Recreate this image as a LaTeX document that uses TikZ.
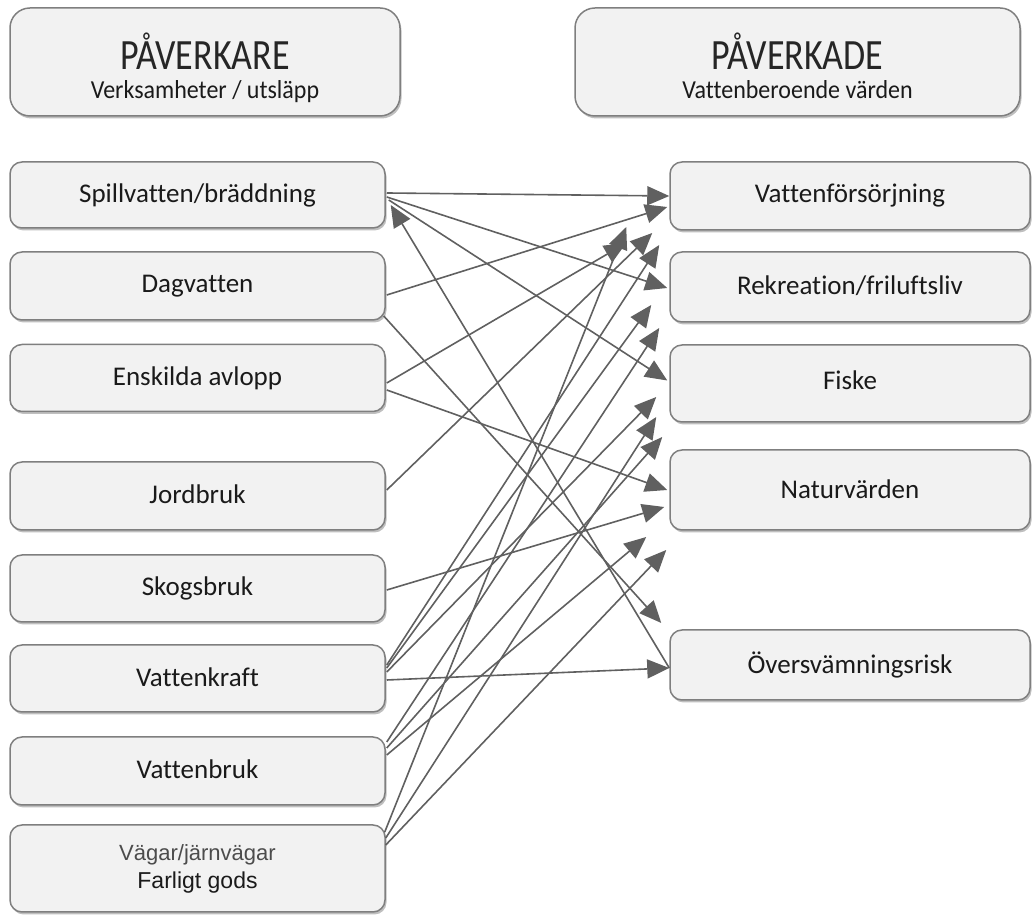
\documentclass[tikz,border=0pt]{standalone}
\usepackage{fontspec}
\setmainfont{Carlito}[Ligatures=NoCommon]
\newfontfamily\arialf{Liberation Sans}
\usetikzlibrary{arrows.meta,shadows,calc}
\definecolor{boxfill}{HTML}{F2F2F2}
\definecolor{boxline}{HTML}{7F7F7F}
\definecolor{arrcol}{HTML}{606060}
\definecolor{txt}{HTML}{1A1A1A}
\begin{document}
\begin{tikzpicture}[x=1pt,y=1pt,
  box/.style={draw=boxline,line width=1.5pt,fill=boxfill,rounded corners=12pt,
    minimum width=375pt,inner sep=0pt,align=center,text=txt,
    font=\fontsize{27}{32}\selectfont,
    drop shadow={shadow xshift=1.5pt,shadow yshift=-2.5pt,opacity=0.25,fill=black}},
  rbox/.style={box,minimum width=360pt},
  hbox/.style={box,rounded corners=20pt,minimum height=108pt},
  htitle/.style={anchor=base,inner sep=0pt,text=black!85,font=\fontsize{36}{40}\selectfont},
  hsub/.style={anchor=base,inner sep=0pt,text=txt,font=\fontsize{24}{28}\selectfont},
  arr/.style={draw=arrcol,line width=1.6pt,-{Triangle[length=22pt,width=19pt]},fill=arrcol}
]
\useasboundingbox (0,0) rectangle (1034,915);
% headers
\node[hbox,minimum width=390pt] (hl) at (205,853) {};
\node[htitle] (hlt) at ($(hl.center)+(0,-8)$) {\scalebox{1}[1.2]{PÅVERKARE}};
\node[hsub] (hls) at ($(hl.center)+(0,-37)$) {\scalebox{1}[1.08]{Verksamheter / utsläpp}};
\node[hbox,minimum width=445pt] (hr) at (797.5,853) {};
\node[htitle] (hrt) at ($(hr.center)+(0,-8)$) {\scalebox{1}[1.2]{PÅVERKADE}};
\node[hsub] (hrs) at ($(hr.center)+(0,-37)$) {\scalebox{1}[1.08]{Vattenberoende värden}};
% left boxes
\node[box,minimum height=66pt] (spill) at (197.5,720) {\raisebox{3pt}{Spillvatten/bräddning}};
\node[box,minimum height=68pt] (dag) at (197.5,629) {\raisebox{3pt}{Dagvatten}};
\node[box,minimum height=67pt] (ensk) at (197.5,537) {\raisebox{3pt}{Enskilda avlopp}};
\node[box,minimum height=68pt] (jord) at (197.5,419) {\raisebox{4pt}{Jordbruk}};
\node[box,minimum height=67pt] (skog) at (197.5,326.5) {\raisebox{3pt}{Skogsbruk}};
\node[box,minimum height=67pt] (vatk) at (197.5,236.5) {\raisebox{3pt}{Vattenkraft}};
\node[box,minimum height=68pt] (vatb) at (197.5,144) {\raisebox{3pt}{Vattenbruk}};
\node[box,minimum height=87pt,font=\arialf\fontsize{23}{28}\selectfont] (vag) at (197.5,46.5)
  {{\color{black!70}\fontsize{22}{28}\selectfont Vägar/järnvägar}\\Farligt gods};
% right boxes
\node[rbox,minimum height=68pt] (vf) at (850,719) {\raisebox{4pt}{Vattenförsörjning}};
\node[rbox,minimum height=70pt] (rek) at (850,628) {\raisebox{4pt}{Rekreation/friluftsliv}};
\node[rbox,minimum height=77pt] (fiske) at (850,531.5) {\raisebox{7pt}{Fiske}};
\node[rbox,minimum height=80pt] (natur) at (850,425) {\raisebox{1pt}{Naturvärden}};
\node[rbox,minimum height=70pt] (over) at (850,250) {\raisebox{2pt}{Översvämningsrisk}};
% connectors
\draw[arr] ($(spill.east)+(1,2)$) -- (vf.west);
\draw[arr] ($(spill.east)+(1,-2)$) -- ($(rek.west)+(-2,-1)$);
\draw[arr] ($(spill.east)+(3,-5)$) -- ($(fiske.west)+(-2,3)$);
\draw[arr] ($(over.west)+(0,-3)$) -- ($(spill.east)+(5,-10)$);
\draw[arr] ($(dag.east)+(1,-9)$) -- ($(vf.west)+(-2,-11)$);
\draw[arr] ($(dag.east)+(-2,-30)$) -- ($(over.west)+(-8,42)$);
\draw[arr] ($(ensk.east)+(1,-5)$) -- ($(vf.west)+(-43,-47)$);
\draw[arr] ($(ensk.east)+(1,-12)$) -- ($(natur.west)+(-2,0)$);
\draw[arr] ($(jord.east)+(1,6)$) -- ($(vf.west)+(-17,-37)$);
\draw[arr] ($(skog.east)+(1,-1.5)$) -- ($(natur.west)+(-5,-17)$);
\draw[arr] ($(vatk.east)+(1,-1.5)$) -- ($(over.west)+(0,-3)$);
\draw[arr] ($(vatk.east)+(1,13.5)$) -- ($(vf.west)+(-10,-49)$);
\draw[arr] ($(vatk.east)+(1,10.5)$) -- ($(rek.west)+(-18,-18)$);
\draw[arr] ($(vatk.east)+(1,6.5)$) -- ($(fiske.west)+(-13,-13.5)$);
\draw[arr] ($(vatb.east)+(1,29)$) -- ($(rek.west)+(-10,-41)$);
\draw[arr] ($(vatb.east)+(1,23)$) -- ($(fiske.west)+(-7,-53.5)$);
\draw[arr] ($(vatb.east)+(1,16)$) -- ($(natur.west)+(-23,-47)$);
\draw[arr] ($(vag.east)+(-1,36.5)$) -- ($(vf.west)+(-43,-31)$);
\draw[arr] ($(vag.east)+(0,30.5)$) -- ($(fiske.west)+(-13,-33.5)$);
\draw[arr] ($(vag.east)+(0,23.5)$) -- ($(natur.west)+(-3,-60)$);
\end{tikzpicture}
\end{document}
